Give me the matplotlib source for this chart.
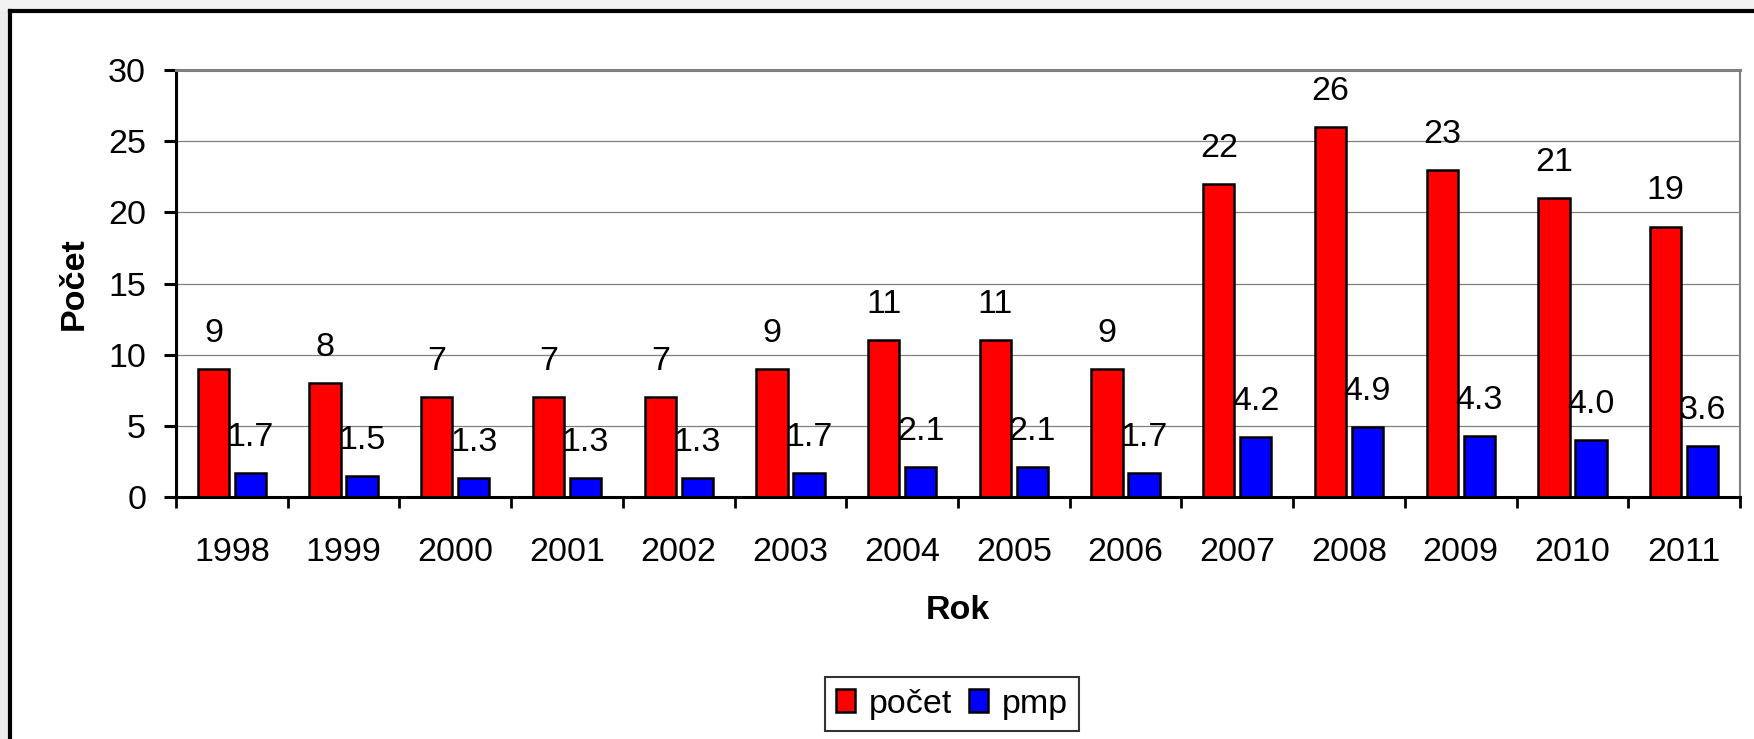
import matplotlib
matplotlib.use('Agg')
import matplotlib.pyplot as plt
import numpy as np
from matplotlib.lines import Line2D
from matplotlib.patches import Rectangle

plt.rcParams['font.family'] = ['Liberation Sans', 'DejaVu Sans']

# data
roky = ['1998', '1999', '2000', '2001', '2002', '2003', '2004',
        '2005', '2006', '2007', '2008', '2009', '2010', '2011']
pocet = [9, 8, 7, 7, 7, 9, 11, 11, 9, 22, 26, 23, 21, 19]
pmp = [1.7, 1.5, 1.3, 1.3, 1.3, 1.7, 2.1, 2.1, 1.7, 4.2, 4.9, 4.3, 4.0, 3.6]

W, H = 1754, 739
fs = 24.5
fig = plt.figure(figsize=(W / 100, H / 100), dpi=100)

# pozadi mimo ramecek + ramecek
fig.patches.append(Rectangle((0, 0), 9 / W, 1, transform=fig.transFigure,
                             color='#ececec', zorder=0))
fig.patches.append(Rectangle((0, 1 - 10 / H), 1, 10 / H, transform=fig.transFigure,
                             color='#f2f2f2', zorder=0))
fig.lines.append(Line2D([10 / W, 10 / W], [0, 1 - 11 / H], transform=fig.transFigure,
                        color='black', lw=3, solid_capstyle='projecting'))
fig.lines.append(Line2D([10 / W, 1], [1 - 11 / H, 1 - 11 / H], transform=fig.transFigure,
                        color='black', lw=3, solid_capstyle='projecting'))

ax = fig.add_axes([176 / W, 1 - 497 / H, (1740 - 176) / W, (497 - 70) / H])

x = np.arange(len(roky))
w = 0.28
off = 0.165
b1 = ax.bar(x - off, pocet, w, color='#ff0000', edgecolor='black', lw=1.8,
            label='počet', zorder=3)
b2 = ax.bar(x + off, pmp, w, color='#0000ff', edgecolor='black', lw=1.8,
            label='pmp', zorder=3)

for xi, v in zip(x, pocet):
    ax.annotate(str(v), (xi - off, v), xytext=(0, 19.5), textcoords='offset points',
                ha='center', va='baseline', fontsize=fs, zorder=4)
for xi, v in zip(x, pmp):
    ax.annotate('%.1f' % v, (xi + off, v), xytext=(0, 19.5), textcoords='offset points',
                ha='center', va='baseline', fontsize=fs, zorder=4)

ax.set_xlim(-0.5, len(roky) - 0.5)
ax.set_ylim(0, 30)
ax.set_yticks(range(0, 31, 5))
ax.set_xticks(x)
ax.set_xticklabels(roky)
ax.set_xticks(np.arange(-0.5, len(roky)), minor=True)
ax.tick_params(axis='x', which='major', length=0, pad=29, labelsize=fs)
ax.tick_params(axis='x', which='minor', length=8, width=2, direction='out')
ax.tick_params(axis='y', length=8.5, width=2.2, direction='out', pad=13, labelsize=fs)

ax.yaxis.grid(True, color='#808080', lw=0.9, zorder=0)
ax.set_axisbelow(True)
for s in ['top', 'right']:
    ax.spines[s].set_color('#808080')
ax.spines['top'].set_linewidth(2.2)
ax.spines['right'].set_linewidth(1.5)
ax.spines['left'].set_linewidth(2.2)
ax.spines['bottom'].set_linewidth(2.2)
ax.spines['bottom'].set_zorder(5)

ax.set_xlabel('Rok', fontsize=fs, fontweight='bold', labelpad=19)
ax.set_ylabel('Počet', fontsize=fs, fontweight='bold', labelpad=13)

leg = fig.legend(handles=[b1, b2], loc='center', bbox_to_anchor=(952 / W, 1 - 704 / H),
                 ncol=2, fontsize=fs, frameon=True, fancybox=False, edgecolor='black',
                 handlelength=0.55, handleheight=0.65, handletextpad=0.4,
                 columnspacing=0.5, borderpad=0.35)
leg.get_frame().set_linewidth(1.5)

fig.savefig('out.png', dpi=100)
